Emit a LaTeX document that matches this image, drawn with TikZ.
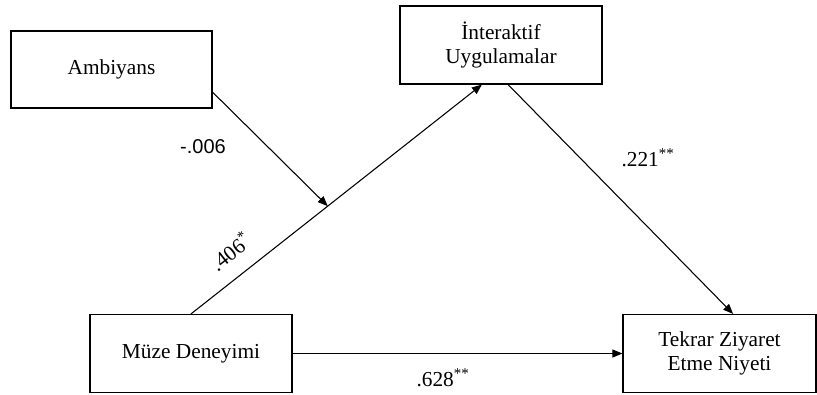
\documentclass[tikz,border=0pt]{standalone}
\usepackage{fontspec}
\setmainfont{Liberation Serif}
\newfontfamily\coefsans{Liberation Sans}
\usetikzlibrary{arrows.meta,calc}

\tikzset{
  varbox/.style={draw, line width=0.9pt, minimum width=151.5pt, minimum height=58.5pt, align=center, inner sep=0pt},
  pathline/.style={line width=0.8pt, -{Triangle[length=7.5pt,width=6pt]}},
  coef/.style={inner sep=0pt}
}

\begin{document}
\begin{tikzpicture}[x=0.75pt, y=-0.75pt, font=\fontsize{16}{18}\selectfont]
  \useasboundingbox (0,0) rectangle (817,394);

  % Define nodes
  \node[varbox, minimum width=150.75pt, minimum height=57.75pt] (amb) at (111.5,69.5) {Ambiyans};
  \node[varbox] (inter) at (501,45) {İnteraktif\\Uygulamalar};
  \node[varbox] (muze) at (191,353.5) {Müze Deneyimi};
  \node[varbox, minimum width=144.75pt] (tekrar) at (719.5,353.5) {Tekrar Ziyaret\\Etme Niyeti};

  % Draw paths
  \draw[pathline] (muze.north) -- coordinate[pos=0.47] (mod) ($(inter.south west)!0.406!(inter.south east)$);
  \draw[pathline] ($(amb.north east)!0.79!(amb.south east)$) -- (mod);
  \draw[pathline] ($(inter.south west)!0.535!(inter.south east)$) -- ($(tekrar.north west)!0.57!(tekrar.north east)$);
  \draw[pathline] (muze.east) -- (tekrar.west);

  % Coefficients
  \node[coef, font=\coefsans\fontsize{15}{18}\selectfont] (cAmb) at (203,147) {-.006};
  \node[coef] (cInt) at (648,158) {.221\textsuperscript{**}};
  \node[coef, rotate=38] (cMuze) at (230,251) {.406\textsuperscript{*}};
  \node[coef] (cDir) at (443,378) {.628\textsuperscript{**}};
\end{tikzpicture}
\end{document}
